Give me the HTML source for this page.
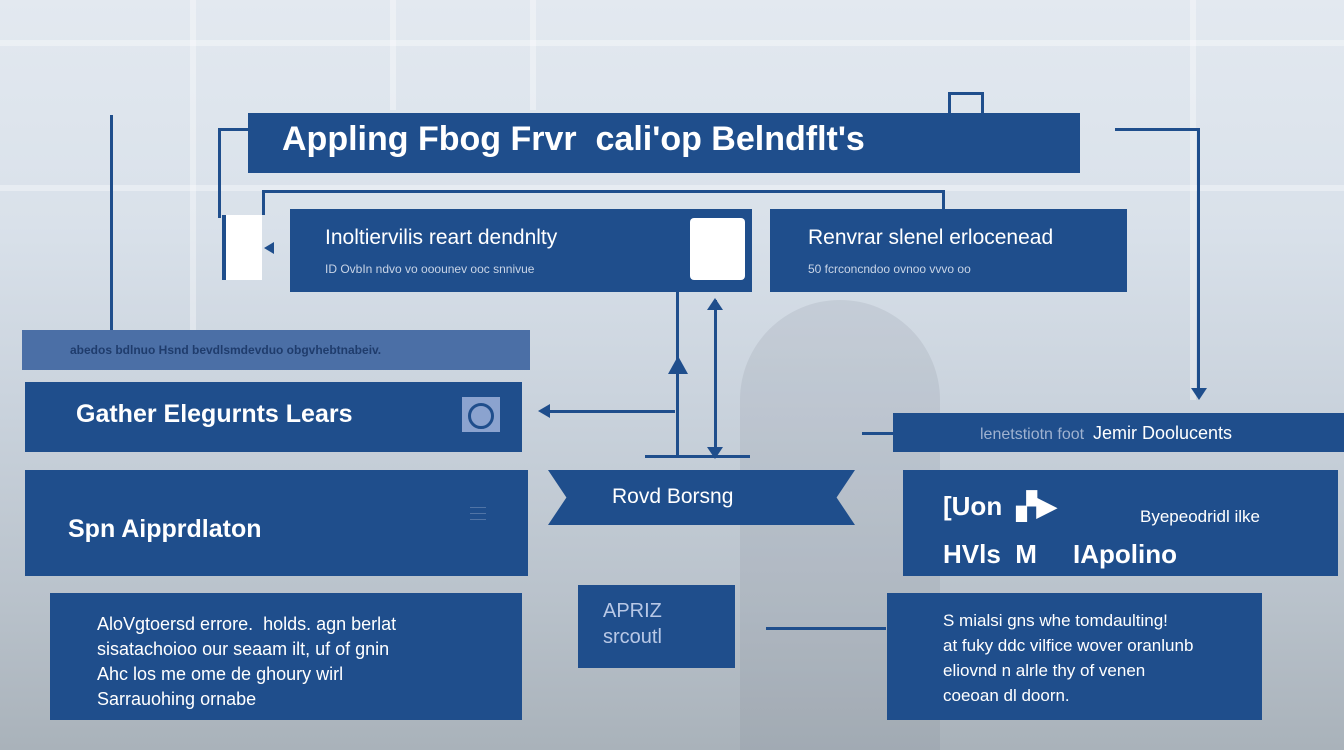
<!DOCTYPE html>
<html><head><meta charset="utf-8"><style>
html,body{margin:0;padding:0}
body{width:1344px;height:750px;position:relative;overflow:hidden;font-family:"Liberation Sans",sans-serif;
background:linear-gradient(180deg,#e3e9f0 0%,#d9e1ea 30%,#c9d2dc 55%,#b9c2cb 80%,#a9b2ba 100%);}
.b{position:absolute;background:#1f4e8c;color:#fff;box-sizing:border-box}
.l{position:absolute;background:#1f4e8c}
.t{position:absolute;white-space:nowrap;color:#fff}
.win{position:absolute;background:rgba(255,255,255,0.35)}
</style></head><body>
<div class="win" style="left:0;top:40px;width:1344px;height:6px"></div>
<div class="win" style="left:0;top:185px;width:1344px;height:6px"></div>
<div class="win" style="left:190px;top:0;width:6px;height:330px"></div>
<div class="win" style="left:390px;top:0;width:6px;height:110px"></div>
<div class="win" style="left:530px;top:0;width:6px;height:110px"></div>
<div class="win" style="left:1190px;top:0;width:6px;height:400px"></div>
<div style="position:absolute;left:740px;top:300px;width:200px;height:450px;background:rgba(120,130,140,0.15);border-radius:100px 100px 0 0"></div>

<div class="l" style="left:110px;top:115px;width:3px;height:215px"></div>
<div class="l" style="left:218px;top:128px;width:30px;height:3px"></div>
<div class="l" style="left:218px;top:128px;width:3px;height:90px"></div>
<div class="l" style="left:262px;top:190px;width:683px;height:3px"></div>
<div class="l" style="left:262px;top:190px;width:3px;height:25px"></div>
<div class="l" style="left:942px;top:190px;width:3px;height:20px"></div>
<div style="position:absolute;left:948px;top:92px;width:36px;height:21px;border:3px solid #1f4e8c;border-bottom:none;box-sizing:border-box"></div>
<div class="l" style="left:1115px;top:128px;width:85px;height:3px"></div>
<div class="l" style="left:1197px;top:128px;width:3px;height:262px"></div>
<div style="position:absolute;left:1191px;top:388px;border-left:8px solid transparent;border-right:8px solid transparent;border-top:12px solid #1f4e8c"></div>
<div class="l" style="left:676px;top:292px;width:3px;height:165px"></div>
<div style="position:absolute;left:668px;top:356px;border-left:10px solid transparent;border-right:10px solid transparent;border-bottom:18px solid #1f4e8c"></div>
<div class="l" style="left:714px;top:300px;width:3px;height:155px"></div>
<div style="position:absolute;left:707px;top:298px;border-left:8px solid transparent;border-right:8px solid transparent;border-bottom:12px solid #1f4e8c"></div>
<div style="position:absolute;left:707px;top:447px;border-left:8px solid transparent;border-right:8px solid transparent;border-top:12px solid #1f4e8c"></div>
<div class="l" style="left:550px;top:410px;width:125px;height:3px"></div>
<div style="position:absolute;left:538px;top:404px;border-top:7px solid transparent;border-bottom:7px solid transparent;border-right:12px solid #1f4e8c"></div>
<div class="l" style="left:645px;top:455px;width:105px;height:3px"></div>
<div class="l" style="left:862px;top:432px;width:32px;height:3px"></div>
<div class="l" style="left:766px;top:627px;width:120px;height:3px"></div>

<div class="b" style="left:248px;top:113px;width:832px;height:60px"></div>
<div class="t" style="left:282px;top:120px;font-size:34px;font-weight:bold">Appling Fbog Frvr&nbsp; cali'op Belndflt's</div>

<div style="position:absolute;left:222px;top:215px;width:40px;height:65px;background:#fff;border-left:4px solid #1f4e8c;box-sizing:border-box"></div>
<div style="position:absolute;left:264px;top:242px;border-top:6px solid transparent;border-bottom:6px solid transparent;border-right:10px solid #1f4e8c"></div>
<div class="b" style="left:290px;top:209px;width:462px;height:83px"></div>
<div style="position:absolute;left:690px;top:218px;width:55px;height:62px;background:#fff;border-radius:4px"></div>
<div class="t" style="left:325px;top:226px;font-size:21px">Inoltiervilis reart dendnlty</div>
<div class="t" style="left:325px;top:262px;font-size:12px;color:#c8d4e6">ID OvbIn ndvo vo ooounev ooc snnivue</div>
<div class="b" style="left:770px;top:209px;width:357px;height:83px"></div>
<div class="t" style="left:808px;top:226px;font-size:21px">Renvrar slenel erlocenead</div>
<div class="t" style="left:808px;top:262px;font-size:12px;color:#c8d4e6">50 fcrconcndoo ovnoo vvvo oo</div>

<div class="b" style="left:22px;top:330px;width:508px;height:40px;background:#4b6fa6"></div>
<div class="t" style="left:70px;top:343px;font-size:12px;color:#1f3c6c;font-weight:bold">abedos bdlnuo Hsnd bevdlsmdevduo obgvhebtnabeiv.</div>
<div class="b" style="left:25px;top:382px;width:497px;height:70px"></div>
<div class="t" style="left:76px;top:400px;font-size:25px;font-weight:bold">Gather Elegurnts Lears</div>
<div style="position:absolute;left:462px;top:397px;width:38px;height:35px;background:#8ba3cf;box-sizing:border-box;padding:6px"><div style="width:20px;height:20px;border:3px solid #1f4e8c;border-radius:50%;margin:auto"></div></div>
<div class="b" style="left:25px;top:470px;width:503px;height:106px"></div>
<div class="t" style="left:68px;top:515px;font-size:25px;font-weight:bold">Spn Aipprdlaton</div>
<div class="t" style="left:470px;top:505px;font-size:6px;color:#9fb2d0">--------<br>--------<br>--------</div>
<div class="b" style="left:50px;top:593px;width:472px;height:127px"></div>
<div class="t" style="left:97px;top:612px;font-size:18px;line-height:25px">AloVgtoersd errore.&nbsp; holds. agn berlat<br>sisatachoioo our seaam ilt, uf of gnin<br>Ahc los me ome de ghoury wirl<br>Sarrauohing ornabe</div>

<div class="b" style="left:548px;top:470px;width:307px;height:55px;clip-path:polygon(0 0,100% 0,94% 50%,100% 100%,0 100%,6% 50%)"></div>
<div class="t" style="left:612px;top:485px;font-size:21px">Rovd Borsng</div>
<div class="b" style="left:578px;top:585px;width:157px;height:83px"></div>
<div class="t" style="left:603px;top:598px;font-size:20px;color:#b8c8e6;line-height:26px">APRIZ<br>srcoutl</div>

<div class="b" style="left:893px;top:413px;width:451px;height:39px"></div>
<div class="t" style="left:980px;top:423px;font-size:16px;color:#9fb2d0">lenetstiotn foot&nbsp; <span style="color:#fff;font-size:18px">Jemir Doolucents</span></div>
<div class="b" style="left:903px;top:470px;width:435px;height:106px"></div>
<div class="t" style="left:943px;top:482px;font-size:26px;line-height:48px;font-weight:bold">[Uon&nbsp;&nbsp;▞▶<br>HVls&nbsp;&nbsp;M&nbsp;&nbsp;&nbsp;&nbsp;&nbsp;IApolino</div>
<div class="t" style="left:1140px;top:507px;font-size:17px">Byepeodridl ilke</div>
<div class="b" style="left:887px;top:593px;width:375px;height:127px"></div>
<div class="t" style="left:943px;top:608px;font-size:17px;line-height:25px">S mialsi gns whe tomdaulting!<br>at fuky ddc vilfice wover oranlunb<br>eliovnd n alrle thy of venen<br>coeoan dl doorn.</div>
</body></html>
